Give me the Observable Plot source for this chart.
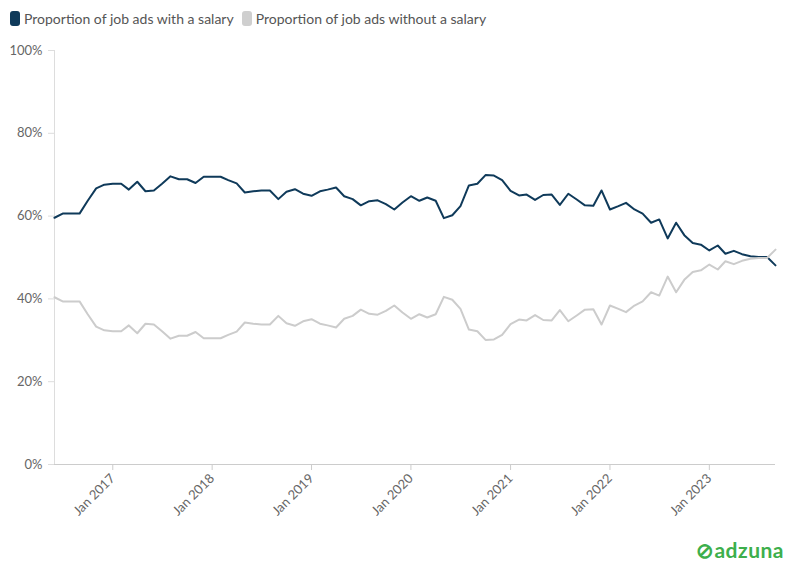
<!DOCTYPE html>
<html><head><meta charset="utf-8">
<script src="https://cdn.jsdelivr.net/npm/d3@7"></script>
<script src="https://cdn.jsdelivr.net/npm/@observablehq/plot@0.6"></script>
<style>
body{margin:0;background:#fff;font-family:Lato,sans-serif;}
#wrap{position:relative;width:796px;height:575px;}
.legend{position:absolute;left:10px;top:10px;font-size:14px;color:#555;display:flex;gap:8px;align-items:center}
.sw{display:inline-block;width:10px;height:15px;border-radius:3px;margin-right:4px;vertical-align:-2px}
#chart{position:absolute;left:0;top:40px}
.logo{position:absolute;right:12px;bottom:12px;font-size:21px;font-weight:bold;color:#3daf4c;font-family:Lato,sans-serif;letter-spacing:0.5px}
</style></head><body>
<div id="wrap">
<div class="legend"><span><span class="sw" style="background:#0f3a5a"></span>Proportion of job ads with a salary</span><span><span class="sw" style="background:#cfcfcf"></span>Proportion of job ads without a salary</span></div>
<div id="chart"></div>
<div class="logo">⊘adzuna</div>
</div>
<script>
const startMonth = new Date(Date.UTC(2016, 5, 1));
const withSalary = [59.6,60.6,60.6,60.6,63.7,66.7,67.6,67.8,67.8,66.4,68.3,66.0,66.2,67.8,69.6,68.9,68.9,68.0,69.5,69.5,69.5,68.7,67.9,65.7,66.0,66.2,66.2,64.1,65.9,66.5,65.4,64.9,66.0,66.4,66.9,64.8,64.1,62.6,63.6,63.8,62.9,61.6,63.3,64.8,
63.7,64.5,63.7,59.5,60.2,62.4,67.4,67.8,69.9,69.8,68.7,66.1,65.0,65.2,63.9,65.1,65.2,62.7,65.4,64.0,62.6,62.5,66.2,61.6,62.4,63.2,61.6,60.6,58.4,59.2,54.6,58.4,55.4,53.5,53.1,51.7,52.9,50.9,51.6,50.8,50.3,50.1,50.1,48.1];
const withoutSalary = [40.4,39.4,39.4,39.4,36.3,33.3,32.4,32.2,32.2,33.6,31.7,34.0,33.8,32.2,30.4,31.1,31.1,32.0,30.5,30.5,30.5,31.3,32.1,34.3,34.0,33.8,33.8,35.9,34.1,33.5,34.6,35.1,34.0,33.6,33.1,35.2,35.9,37.4,36.4,36.2,37.1,38.4,36.7,35.2,
36.3,35.5,36.3,40.5,39.8,37.6,32.6,32.2,30.1,30.2,31.3,33.9,35.0,34.8,36.1,34.9,34.8,37.3,34.6,36.0,37.4,37.5,33.8,38.4,37.6,36.8,38.4,39.4,41.6,40.8,45.4,41.6,44.6,46.5,46.9,48.3,47.1,49.1,48.4,49.2,49.7,49.9,49.9,51.9];
const months = withSalary.map((_, i) => d3.utcMonth.offset(startMonth, i));
const rows = [
  ...months.map((date, i) => ({date, value: withSalary[i], series: "with"})),
  ...months.map((date, i) => ({date, value: withoutSalary[i], series: "without"}))
];
const chart = Plot.plot({
  width: 796, height: 535,
  marginLeft: 54, marginRight: 21, marginTop: 10, marginBottom: 111,
  style: {fontFamily: "Lato, sans-serif", fontSize: "13px", color: "#666"},
  x: {type: "utc", domain: [months[0], months[months.length-1]], label: null},
  y: {domain: [0, 100], label: null},
  color: {domain: ["with","without"], range: ["#0f3a5a","#cccccc"]},
  marks: [
    Plot.axisY({ticks: [0,20,40,60,80,100], tickFormat: d => d + "%", tickSize: 6, stroke: "#ddd", fontSize: 13, tickPadding: 6}),
    Plot.ruleX([months[0]], {stroke: "#ddd"}),
    Plot.ruleY([0], {stroke: "#ccc"}),
    Plot.axisX({ticks: d3.utcYear.every(1), tickFormat: d3.utcFormat("Jan %Y"), tickRotate: -45, tickSize: 6, stroke: "#ccc", fontSize: 13}),
    Plot.lineY(rows, {x: "date", y: "value", z: "series", stroke: "series", strokeWidth: 2})
  ]
});
document.getElementById("chart").append(chart);
</script>
</body></html>
